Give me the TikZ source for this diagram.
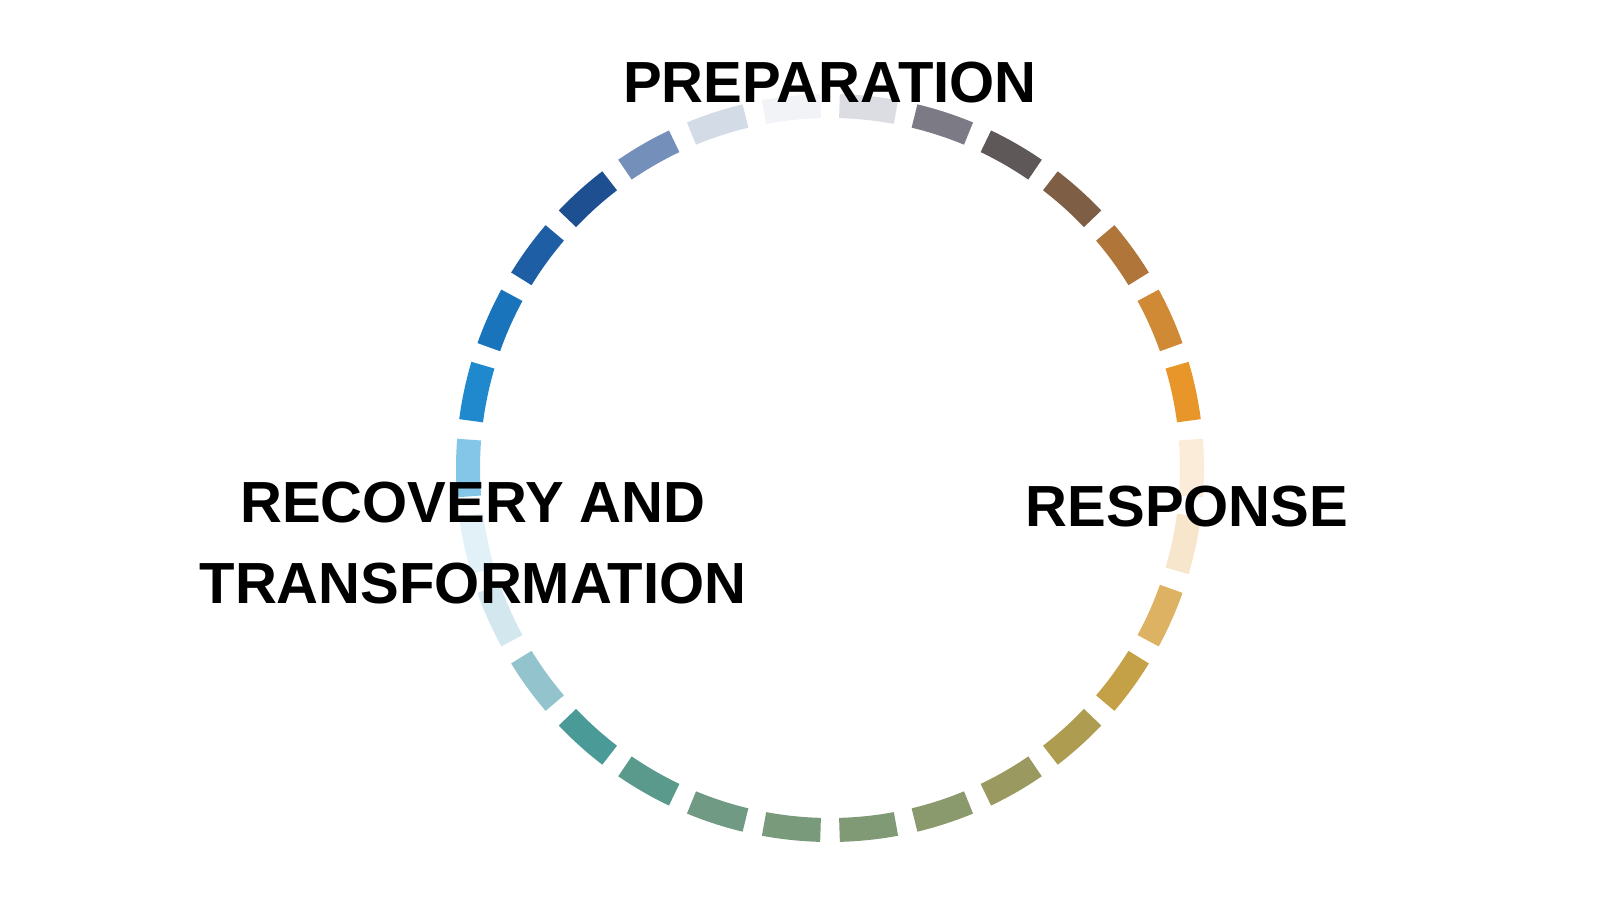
\documentclass[tikz,border=0pt]{standalone}
\usepackage{fontspec}
\setmainfont{Liberation Sans}
\usetikzlibrary{calc}
\begin{document}
\begin{tikzpicture}[x=0.01cm,y=0.01cm,
    phase/.style={font=\bfseries\fontsize{16.5}{21}\selectfont, align=center, inner sep=0pt}
  ]
  \useasboundingbox (0,0) rectangle (1600,-900);
  \coordinate (c) at (830,-468);
  % dashed ring, one arc per dash
  \foreach \a/\col/\op in {
      0/F0C080/0.3, 12/E8962A/1, 24/D08A35/1, 36/B07538/1, 48/7E5E45/1, 60/5E5858/1,
      72/6E6C78/0.9, 84/B8BCC8/0.5, 96/D0D8E4/0.3, 108/A8B8D0/0.5, 120/5C7CAE/0.85,
      132/1E4F90/1, 144/1E5EA4/1, 156/1A74BC/1, 168/2088CC/1, 180/50AEDE/0.7,
      192/A0D0E8/0.3, 204/A8D0E0/0.5, 216/78B4C0/0.8, 228/4A9A98/1, 240/5A9A8C/1,
      252/709A84/1, 264/7A9A7C/1, 276/809A76/1, 288/8A9A6C/1, 300/9A9A60/1,
      312/AE9C50/1, 324/C4A046/1, 336/D8A448/0.85, 348/EEC080/0.4} {
    \definecolor{dashcol}{HTML}{\col}
    \draw[dashcol, opacity=\op, line width=0.24cm]
      ($(c)+(\a-4.5:362)$) arc[start angle=\a-4.5, end angle=\a+4.5, radius=362];
  }
  \node[phase] (prep) at (830,-83) {PREPARATION};
  \node[phase] (resp) at (1187,-507) {RESPONSE};
  \node[phase] (reco) at (473,-543) {RECOVERY AND\\[2pt]TRANSFORMATION};
\end{tikzpicture}
\end{document}
